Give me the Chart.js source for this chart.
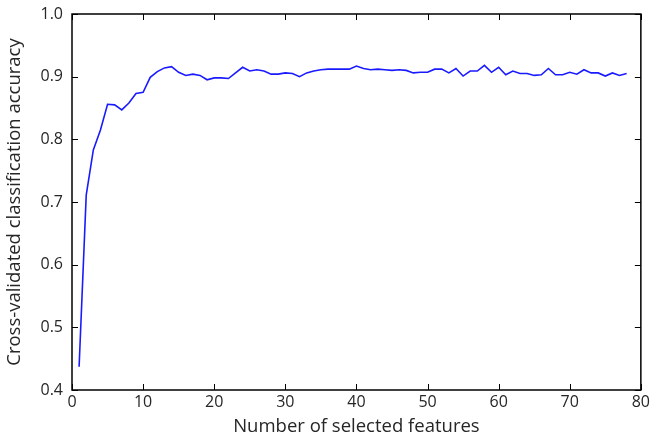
<!DOCTYPE html>
<html>
<head>
<meta charset="utf-8">
<script src="https://cdn.jsdelivr.net/npm/chart.js@4/dist/chart.umd.min.js"></script>
<style>
  html, body { margin: 0; padding: 0; background: #fff; }
  #wrap { width: 653px; height: 442px; position: relative; }
</style>
</head>
<body>
<div id="wrap"><canvas id="c"></canvas></div>
<script>
// data
const features = [1,2,3,4,5,6,7,8,9,10,11,12,13,14,15,16,17,18,19,20,
    21,22,23,24,25,26,27,28,29,30,31,32,33,34,35,36,37,38,39,40,
    41,42,43,44,45,46,47,48,49,50,51,52,53,54,55,56,57,58,59,60,
    61,62,63,64,65,66,67,68,69,70,71,72,73,74,75,76,77,78];
const accuracy = [0.437,0.711,0.783,0.815,0.856,0.855,0.847,0.858,0.873,0.875,
    0.899,0.908,0.914,0.916,0.907,0.902,0.904,0.902,0.895,0.898,
    0.898,0.897,0.906,0.915,0.909,0.911,0.909,0.904,0.904,0.906,
    0.905,0.900,0.906,0.909,0.911,0.912,0.912,0.912,0.912,0.917,
    0.913,0.911,0.912,0.911,0.910,0.911,0.910,0.906,0.907,0.907,
    0.912,0.912,0.906,0.913,0.901,0.909,0.909,0.918,0.907,0.915,
    0.903,0.909,0.905,0.905,0.902,0.903,0.913,0.903,0.903,0.907,
    0.904,0.911,0.906,0.906,0.901,0.906,0.902,0.905];
const xTicks = [0, 80, 10];   // min, max, step
const yTicks = [0.4, 1.0, 0.1];

const FONT = "'Open Sans', sans-serif";
const TXT = '#262626';

// matplotlib-ish frame with inward ticks on all four sides
const frame = {
    id: 'frame',
    afterDatasetsDraw(chart) {
        const { ctx, chartArea: a, scales } = chart;
        ctx.save();
        ctx.strokeStyle = '#000';
        ctx.lineWidth = 1;
        ctx.beginPath();
        scales.x.ticks.forEach(t => {
            const px = Math.round(scales.x.getPixelForValue(t.value)) + 0.5;
            ctx.moveTo(px, a.bottom); ctx.lineTo(px, a.bottom - 6);
            ctx.moveTo(px, a.top); ctx.lineTo(px, a.top + 6);
        });
        scales.y.ticks.forEach(t => {
            const py = Math.round(scales.y.getPixelForValue(t.value)) + 0.5;
            ctx.moveTo(a.left, py); ctx.lineTo(a.left + 6, py);
            ctx.moveTo(a.right, py); ctx.lineTo(a.right - 6, py);
        });
        ctx.stroke();
        ctx.lineWidth = 1.5;
        ctx.strokeRect(a.left, a.top, a.right - a.left, a.bottom - a.top);
        ctx.restore();
    }
};

new Chart(document.getElementById('c'), {
    type: 'line',
    data: {
        datasets: [{
            data: features.map((f, i) => ({ x: f, y: accuracy[i] })),
            borderColor: '#1a1aff',
            borderWidth: 1.6,
            pointRadius: 0,
            tension: 0,
            fill: false
        }]
    },
    options: {
        responsive: true,
        maintainAspectRatio: false,
        animation: false,
        layout: { padding: { top: 14, right: 8, left: 0, bottom: 0 } },
        plugins: { legend: { display: false }, tooltip: { enabled: false } },
        scales: {
            x: {
                type: 'linear',
                min: xTicks[0], max: xTicks[1],
                grid: { display: false, drawTicks: false },
                border: { display: false },
                ticks: { stepSize: xTicks[2], color: TXT, padding: 3,
                         font: { family: FONT, size: 16 } },
                title: { display: true, text: 'Number of selected features', color: TXT,
                         font: { family: FONT, size: 18.5 }, padding: { top: 0 } },
                afterFit(s) { s.height = 52; }
            },
            y: {
                min: yTicks[0], max: yTicks[1],
                grid: { display: false, drawTicks: false },
                border: { display: false },
                ticks: { stepSize: yTicks[2], color: TXT, padding: 9,
                         font: { family: FONT, size: 16 },
                         callback: v => v.toFixed(1) },
                title: { display: true, text: 'Cross-validated classification accuracy', color: TXT,
                         font: { family: FONT, size: 18.5 }, padding: { bottom: 0 } },
                afterFit(s) { s.width = 72; s.paddingTop = 0; s.paddingBottom = 0; }
            }
        }
    },
    plugins: [frame]
});
</script>
</body>
</html>
